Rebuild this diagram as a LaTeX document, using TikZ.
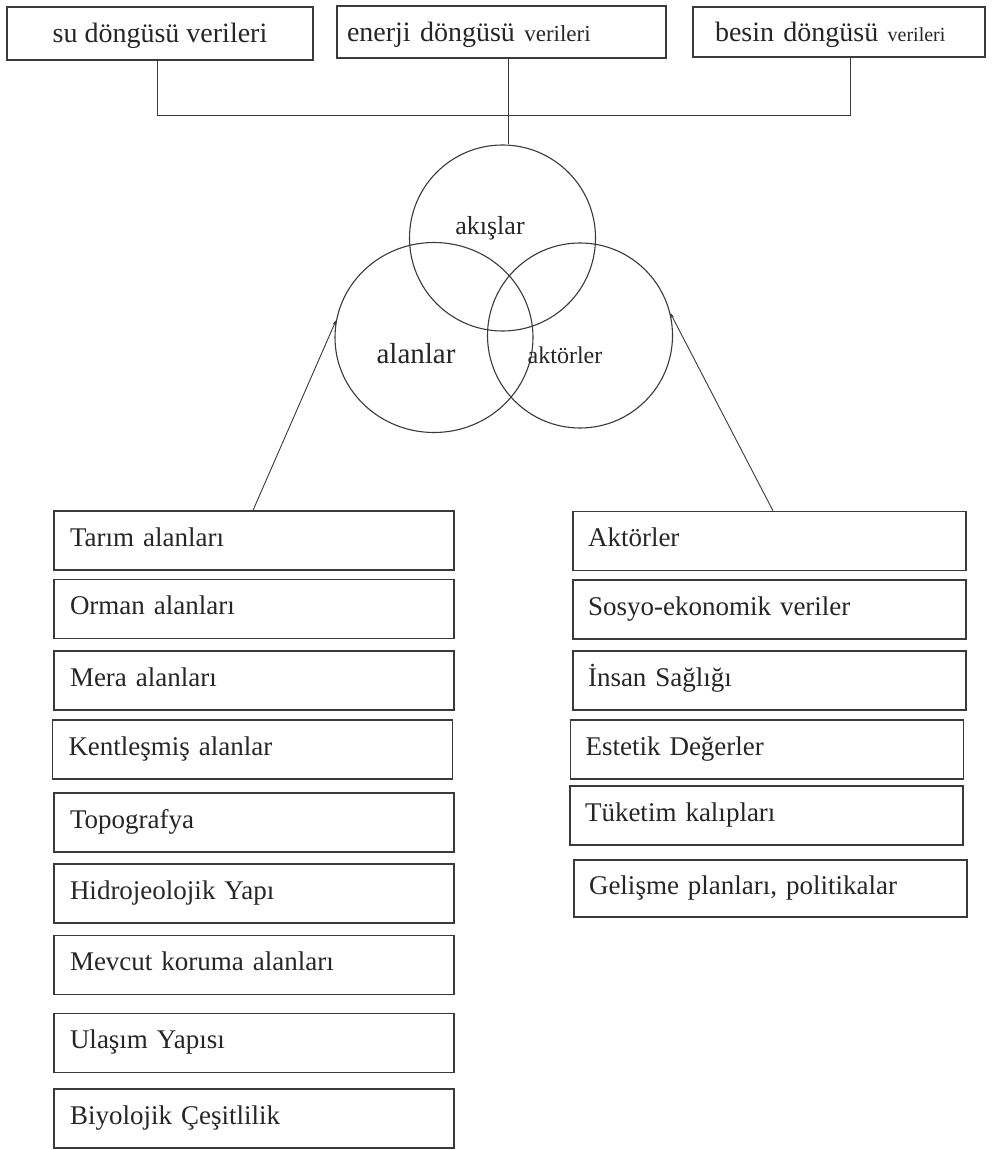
\documentclass[tikz,border=0pt]{standalone}
\usepackage{fontspec}
\setmainfont{Liberation Serif}
\usetikzlibrary{arrows.meta,shapes.geometric}
\definecolor{linec}{HTML}{3A3A3A}
\definecolor{textc}{HTML}{262626}
\begin{document}
\begin{tikzpicture}[x=1pt,y=-1pt,
  topbox/.style={draw=linec, line width=1.3pt, inner ysep=0pt,
    text height=19pt, text depth=0pt, text=textc,
    font=\fontsize{28}{32}\selectfont},
  listbox/.style={draw=linec, line width=1.3pt, inner ysep=0pt,
    minimum height=59pt, align=left, text height=18pt, text depth=7pt,
    text=textc, font=\fontsize{27}{31}\selectfont},
  lbox/.style={listbox, inner xsep=16pt, text width=368pt},
  rbox/.style={listbox, inner xsep=15pt, text width=363pt},
  ring/.style={draw=linec, line width=1.1pt, circle, inner sep=0pt},
  oval/.style={draw=linec, line width=1.1pt, ellipse, inner sep=0pt},
  clabel/.style={anchor=base, inner sep=0pt, text=textc},
  conn/.style={draw=linec, line width=0.9pt},
  link/.style={draw=linec, line width=0.9pt, -{Stealth[length=5pt,width=3.5pt]}}
]
\useasboundingbox[fill=white] (0,0) rectangle (992,1150);

% data sources
\node[topbox, minimum width=306pt, minimum height=53pt] (su) at (160,33.5) {su döngüsü verileri};
\node[topbox, minimum width=329pt, minimum height=52pt, inner xsep=10pt,
      text width=309pt, align=left] (enerji) at (501.5,32)
      {enerji döngüsü {\fontsize{23}{27}\selectfont verileri}};
\node[topbox, minimum width=292pt, minimum height=50pt, inner xsep=22pt,
      text width=248pt, align=left] (besin) at (839,32)
      {besin döngüsü {\fontsize{20}{24}\selectfont verileri}};

% three overlapping sets
\node[ring, minimum size=186pt] (flows) at (502.5,238) {};
\node[oval, minimum width=198pt, minimum height=190pt] (areas) at (434,337.5) {};
\node[ring, minimum size=185pt] (actors) at (580,335.5) {};
\node[clabel, font=\fontsize{26}{30}\selectfont] (lflows) at (490,235) {akışlar};
\node[clabel, font=\fontsize{29}{33}\selectfont] (lareas) at (416,363) {alanlar};
\node[clabel, font=\fontsize{24}{28}\selectfont] (lactors) at (565,363) {aktörler};

% collector lines from the data sources
\coordinate (jn) at (508,115.5);
\draw[conn] ([xshift=-3pt]su.south) |- (jn) -| ([xshift=11pt]besin.south);
\draw[conn] (jn |- enerji.south) -- (jn |- flows.north);

% area list
\node[lbox] (tarim) at (254,540.5) {Tarım alanları};
\node[lbox] (orman) at (254,609) {Orman alanları};
\node[lbox] (mera) at (254,680.5) {Mera alanları};
\node[lbox] (kent) at (252.5,749.5) {Kentleşmiş alanlar};
\node[lbox] (topo) at (254,822.5) {Topografya};
\node[lbox] (hidro) at (254,893.5) {Hidrojeolojik Yapı};
\node[lbox] (mevcut) at (254,965) {Mevcut koruma alanları};
\node[lbox] (ulasim) at (254,1043) {Ulaşım Yapısı};
\node[lbox] (biyo) at (254,1118.5) {Biyolojik Çeşitlilik};

% actor list
\node[rbox] (akt) at (769.5,541) {Aktörler};
\node[rbox] (sosyo) at (769.5,609.5) {Sosyo-ekonomik veriler};
\node[rbox] (insan) at (769.5,680.5) {İnsan Sağlığı};
\node[rbox] (estetik) at (767,749.5) {Estetik Değerler};
\node[rbox] (tuketim) at (766.5,815.5) {Tüketim kalıpları};
\node[rbox, minimum height=57pt] (gelisme) at (770.5,888.5) {Gelişme planları, politikalar};

% links from the lists to their sets
\draw[link] ([xshift=-1pt]tarim.north) -- (areas.170.8);
\draw[link] ([xshift=3.5pt]akt.north) -- (actors.14.2);
\end{tikzpicture}
\end{document}
